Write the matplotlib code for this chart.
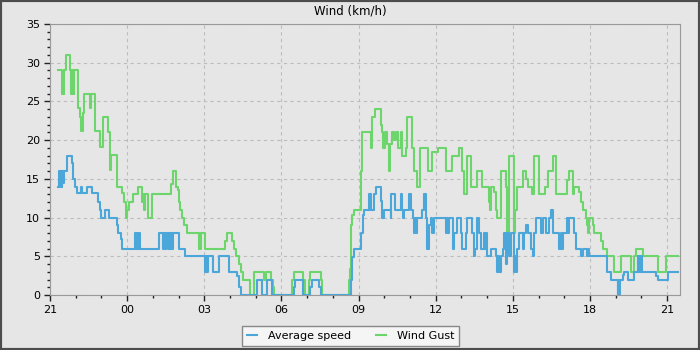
import matplotlib
matplotlib.use('Agg')
import matplotlib.pyplot as plt
import matplotlib.dates as mdates
from matplotlib.ticker import MultipleLocator
from matplotlib.patches import Rectangle
import pandas as pd

# hours after 21:00 where the value changes, and the value (km/h)
gust_hours = [0.32, 0.45, 0.48, 0.51, 0.54, 0.56, 0.61, 0.78, 0.83, 0.86, 0.88, 0.91, 0.93, 0.95,
              1.10, 1.16, 1.22, 1.28, 1.34, 1.56, 1.60, 1.75, 1.95, 2.08, 2.27, 2.34, 2.37,
              2.60, 2.79, 2.88, 2.96, 3.01, 3.09, 3.22, 3.44, 3.57, 3.61, 3.64, 3.68, 3.83, 3.96,
              4.71, 4.77, 4.90, 4.96, 5.03, 5.06, 5.15, 5.23, 5.32, 5.78, 5.82, 5.84, 5.87, 6.04,
              6.82, 6.88, 7.08, 7.14, 7.23, 7.34, 7.43, 7.49, 7.79, 7.92, 8.31, 8.40, 8.61, 8.66,
              8.72, 9.41, 9.48, 9.84, 9.90, 10.06, 10.13, 10.52, 10.58, 11.62, 11.65, 11.69,
              11.72, 11.75, 11.82, 12.08, 12.14, 12.49, 12.52, 12.64, 12.86, 12.91, 12.96, 13.03,
              13.12, 13.18, 13.22, 13.31, 13.38, 13.44, 13.53, 13.64, 13.70, 13.83, 13.90, 14.09,
              14.16, 14.26, 14.39, 14.70, 14.87, 15.07, 15.39, 15.65, 15.91, 16.04, 16.10, 16.23,
              16.36, 16.62, 16.79, 17.08, 17.11, 17.14, 17.27, 17.34, 17.40, 17.53, 17.73, 17.79,
              17.86, 18.05, 18.08, 18.18, 18.38, 18.53, 18.58, 18.74, 18.83, 19.03, 19.26, 19.35,
              19.55, 19.68, 20.12, 20.19, 20.32, 20.38, 20.58, 20.64, 20.71, 20.84, 20.90, 20.94,
              20.97, 21.10, 21.16, 21.42, 21.49, 21.68, 21.94, 22.20, 22.59, 22.72, 22.79, 23.07,
              23.63, 23.96, 24.41]
gust_kmh = [29, 27.5, 26, 27.5, 26, 29, 31, 29, 26, 29, 26, 29, 26, 29,
            24.2, 23, 21.2, 23.5, 26, 24.2, 26, 21.2, 19.1, 23, 21, 16.2, 18.1,
            14, 13.2, 12, 10, 11, 12, 13, 14, 12, 13, 11, 13, 10, 13,
            14.4, 16, 14, 13.5, 12, 11, 10, 9, 8, 6, 8, 6, 8, 6,
            7, 8, 7, 6, 5, 4, 3, 2, 0, 3, 2, 3, 2, 1,
            0, 2, 3, 2, 0, 2, 3, 2, 0, 2, 3.4, 8,
            9, 10.3, 11, 16, 21, 19, 23, 24, 22, 21, 19, 21,
            19.5, 16, 19.5, 21, 20, 21, 19, 21, 18, 19, 23, 19,
            16, 14, 19, 16, 18.5, 19, 16, 18, 19, 16, 13, 18,
            14, 16, 14, 12, 11, 14, 13.3, 11, 10, 16, 14, 8,
            18, 8, 11, 14, 16, 15, 14, 13, 18, 13, 14, 16,
            18, 13, 14.8, 16, 13, 14, 13.3, 12, 11, 10, 9, 8,
            10, 9, 8, 7, 6, 5, 3, 5, 3, 5, 6, 5,
            3, 5, 5]

avg_hours = [0.32, 0.36, 0.39, 0.42, 0.45, 0.48, 0.51, 0.54, 0.65, 0.84,
             0.91, 0.97, 1.04, 1.19, 1.26, 1.43, 1.62, 1.88, 1.95, 1.99,
             2.14, 2.31, 2.60, 2.66, 2.75, 2.79, 3.31, 3.35, 3.38, 3.42,
             3.45, 3.51, 4.22, 4.41, 4.45, 4.49, 4.53, 4.57, 4.61, 4.65,
             4.69, 4.73, 4.77, 5.00, 5.26, 6.04, 6.08, 6.12, 6.16, 6.32,
             6.58, 6.97, 7.27, 7.34, 7.43, 8.05, 8.25, 8.44, 8.64, 9.48,
             9.54, 9.84, 10.13, 10.19, 10.45, 10.52, 11.69, 11.73, 11.75, 11.84,
             12.10, 12.18, 12.23, 12.40, 12.43, 12.46, 12.49, 12.60, 12.66, 12.86,
             12.92, 12.99, 13.25, 13.27, 13.40, 13.64, 13.70, 13.73, 13.77, 13.96,
             14.03, 14.13, 14.17, 14.21, 14.25, 14.29, 14.48, 14.55, 14.61, 14.68,
             14.74, 14.81, 14.87, 14.94, 15.39, 15.43, 15.47, 15.51, 15.68, 15.73,
             15.84, 15.97, 16.04, 16.17, 16.23, 16.43, 16.49, 16.53, 16.62, 16.69,
             16.75, 16.88, 16.92, 16.96, 17.01, 17.14, 17.34, 17.40, 17.44, 17.48,
             17.53, 17.60, 17.66, 17.73, 17.79, 17.86, 17.92, 18.05, 18.09, 18.13,
             18.18, 18.25, 18.38, 18.44, 18.51, 18.57, 18.70, 18.77, 18.83, 18.90,
             19.09, 19.16, 19.29, 19.42, 19.48, 19.57, 19.81, 19.86, 19.90, 19.94,
             20.12, 20.16, 20.20, 20.38, 20.45, 20.64, 20.71, 20.90, 20.93, 20.97,
             21.03, 21.68, 21.81, 22.07, 22.10, 22.13, 22.16, 22.27, 22.33, 22.46,
             22.72, 22.85, 22.88, 22.91, 22.94, 22.97, 23.02, 23.57, 23.63, 24.02,
             24.41]
avg_kmh = [14, 16, 14, 16, 14, 16, 14.5, 16, 18, 17,
           15, 14, 13.2, 14, 13.2, 14, 13.2, 12, 11, 10,
           11, 10, 9, 8, 7.2, 6, 8, 6, 8, 6,
           8, 6, 8, 6, 8, 6, 8, 6, 8, 6,
           8, 6, 8, 6, 5, 3, 5, 3, 5, 3,
           5, 3, 2.4, 1, 0, 2, 0, 2, 0, 1,
           2, 0, 1, 2, 1, 0, 2, 2.8, 4.9, 6,
           8, 10.3, 11, 13, 11, 13, 11, 13, 14, 12.2,
           10, 11, 10, 13, 11, 13, 11, 10, 11, 13,
           11, 10, 8, 10, 8, 10, 11, 13, 10, 6,
           9, 10, 8, 10, 8, 10, 8, 10, 6, 8,
           10, 8, 6, 8, 10, 8, 5, 6, 10, 8,
           6, 8, 6, 8, 5, 6, 5, 3, 5, 3,
           5, 6, 8, 4, 8, 5, 8, 3, 5, 3,
           6, 8, 6, 8, 9, 8, 6, 5, 8, 10,
           8, 10, 8, 10, 11, 8, 6, 8, 6, 8,
           10, 8, 10, 8, 6, 5, 6, 5, 6, 5,
           5, 3, 2, 0, 2, 0, 2, 2.6, 3, 2,
           3, 5, 3, 5, 3, 5, 3, 2.4, 2, 3,
           3]

start = pd.Timestamp('2024-01-01 21:00')
gust_t = start + pd.to_timedelta(gust_hours, unit='h')
avg_t = start + pd.to_timedelta(avg_hours, unit='h')

bg = '#e6e6e6'
fig = plt.figure(figsize=(7, 3.5), dpi=100, facecolor=bg)
ax = fig.add_axes([50 / 700, 55 / 350, 630 / 700, 271 / 350])
ax.set_facecolor(bg)

ax.step(avg_t, avg_kmh, where='post', color='#4ba6da', lw=1.5, label='Average speed', zorder=3)
ax.step(gust_t, gust_kmh, where='post', color='#6cd66c', lw=1.5, label='Wind Gust', zorder=2)

ax.set_xlim(start, start + pd.Timedelta(hours=24.5))
ax.set_ylim(0, 35)
ax.yaxis.set_major_locator(MultipleLocator(5))
ax.yaxis.set_minor_locator(MultipleLocator(1))
ax.xaxis.set_major_locator(mdates.HourLocator(byhour=range(0, 24, 3)))
ax.xaxis.set_minor_locator(mdates.HourLocator())
ax.xaxis.set_major_formatter(mdates.DateFormatter('%H'))

ax.grid(True, which='major', color='#bdbdbd', linestyle=(0, (3, 3)), linewidth=0.8)
ax.set_axisbelow(True)
for s in ax.spines.values():
    s.set_color('#999999')
ax.tick_params(which='major', length=4, width=1, color='#222222', labelsize=8, pad=3)
ax.tick_params(which='minor', length=2.5, width=1, color='#222222')

fig.text(0.5, 0.968, 'Wind (km/h)', ha='center', va='center', fontsize=8.5)

leg = fig.legend(loc='center', bbox_to_anchor=(350.5 / 700, 14 / 350), ncol=2, fontsize=8,
                 frameon=True, fancybox=False, handlelength=0.9, handletextpad=1.0,
                 columnspacing=2.2, borderpad=0.45)
leg.get_frame().set_facecolor('#f5f5f5')
leg.get_frame().set_edgecolor('#888888')
leg.get_frame().set_alpha(1)

fig.patches.append(Rectangle((0, 0), 1, 1, transform=fig.transFigure, fill=False,
                             edgecolor='#4d4d4d', linewidth=3))

fig.savefig('out.png', dpi=100, facecolor=bg)
